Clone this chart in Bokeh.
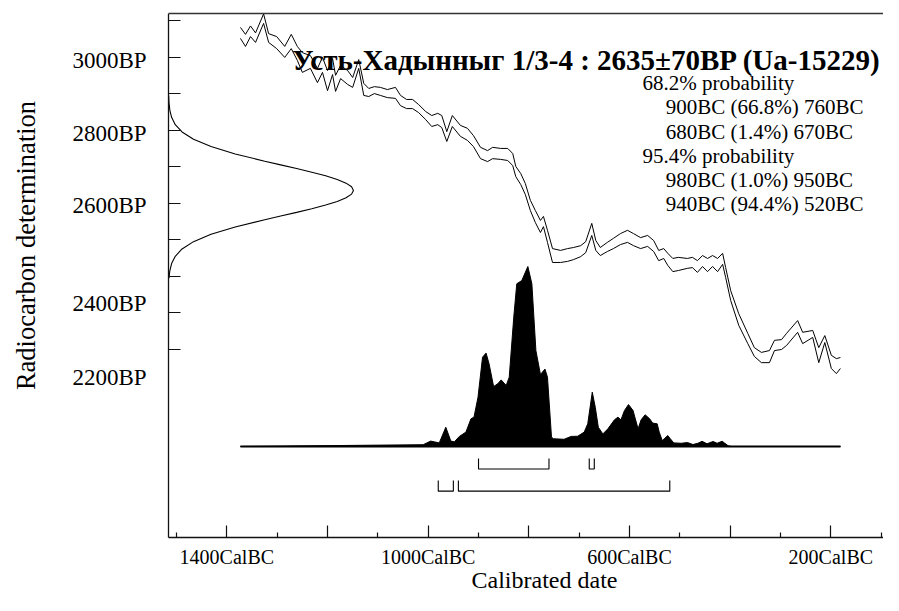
from bokeh.plotting import figure
from bokeh.models import Range1d, LinearAxis, FixedTicker
from bokeh.embed import file_html
from bokeh.resources import INLINE
from bokeh.core.properties import value

# ---------------- data ----------------
title_text = "Усть-Хадынныг 1/3-4 : 2635±70BP (Ua-15229)"
x_title = "Calibrated date"
y_title = "Radiocarbon determination"

# calibration curve (years BC, upper / lower envelope in BP)
cal_bc = [1373, 1363, 1353, 1343, 1327, 1317, 1301, 1285, 1272, 1260,
          1250, 1234, 1220, 1210, 1200, 1190, 1184, 1174, 1160, 1150,
          1138, 1128, 1118, 1107, 1095, 1081, 1065, 1055, 1043, 1031,
          1019, 1005, 993, 981, 973, 963, 952, 936, 922, 910,
          896, 882, 872, 856, 842, 832, 826, 816, 807, 797,
          787, 777, 771, 763, 753, 737, 723, 711, 697, 687,
          675, 667, 658, 644, 632, 618, 604, 592, 578, 564,
          552, 542, 532, 524, 514, 503, 485, 475, 465, 455,
          445, 435, 425, 415, 409, 399, 383, 365, 352, 338,
          322, 312, 298, 288, 266, 256, 236, 224, 212, 199,
          189, 181]
cal_upper = [3081, 3062, 3085, 3066, 3118, 3064, 3056, 3029, 3062, 3029,
             3012, 3004, 2969, 2999, 2963, 2996, 2950, 2977, 2963, 2944,
             2993, 2928, 2914, 2919, 2917, 2911, 2917, 2895, 2884, 2884,
             2870, 2851, 2840, 2846, 2840, 2796, 2840, 2813, 2805, 2785,
             2753, 2744, 2753, 2750, 2750, 2736, 2701, 2681, 2654, 2608,
             2580, 2553, 2564, 2526, 2476, 2471, 2476, 2479, 2484, 2495,
             2545, 2498, 2479, 2493, 2504, 2517, 2526, 2517, 2506, 2512,
             2498, 2471, 2476, 2463, 2449, 2452, 2449, 2452, 2443, 2457,
             2449, 2457, 2449, 2463, 2424, 2361, 2298, 2244, 2205, 2192,
             2197, 2225, 2227, 2244, 2279, 2247, 2252, 2205, 2238, 2184,
             2175, 2178]
cal_lower = [3051, 3029, 3056, 3040, 3092, 3040, 3023, 2999, 3023, 2991,
             2958, 2969, 2930, 2958, 2908, 2952, 2906, 2941, 2925, 2917,
             2969, 2895, 2892, 2900, 2895, 2889, 2887, 2867, 2859, 2859,
             2848, 2829, 2810, 2815, 2807, 2769, 2810, 2783, 2772, 2755,
             2722, 2714, 2722, 2720, 2717, 2703, 2673, 2651, 2624, 2580,
             2547, 2520, 2536, 2493, 2438, 2438, 2441, 2446, 2454, 2465,
             2512, 2471, 2457, 2468, 2476, 2487, 2493, 2484, 2476, 2482,
             2468, 2443, 2449, 2430, 2413, 2416, 2422, 2424, 2411, 2427,
             2413, 2427, 2413, 2433, 2397, 2334, 2266, 2216, 2181, 2164,
             2164, 2197, 2200, 2211, 2247, 2216, 2233, 2164, 2219, 2148,
             2134, 2148]

# calibrated probability distribution (years BC, relative probability)
dist_bc = [1373, 1010, 995, 978, 965, 955, 948, 938, 925, 915,
           909, 901, 892, 885, 879, 870, 862, 855, 845, 839,
           830, 824, 814, 802, 794, 786, 777, 768, 763, 755,
           751, 730, 716, 703, 690, 683, 674, 668, 662, 653,
           643, 630, 623, 617, 610, 602, 593, 583, 577, 569,
           560, 554, 545, 541, 535, 531, 524, 519, 512, 497,
           485, 474, 464, 456, 446, 434, 426, 416, 404, 398,
           181]
dist_p = [0, 0.01, 0.03, 0.02, 0.107, 0.03, 0.026, 0.056, 0.08, 0.154,
          0.163, 0.274, 0.496, 0.519, 0.459, 0.333, 0.348, 0.37, 0.339, 0.385,
          0.718, 0.904, 0.922, 1.0, 0.904, 0.533, 0.4, 0.43, 0.385, 0.052,
          0.043, 0.04, 0.056, 0.057, 0.08, 0.126, 0.302, 0.218, 0.107, 0.07,
          0.098, 0.148, 0.163, 0.148, 0.2, 0.233, 0.2, 0.098, 0.148, 0.176,
          0.154, 0.13, 0.126, 0.08, 0.033, 0.043, 0.061, 0.043, 0.02, 0.018,
          0.022, 0.011, 0.018, 0.029, 0.015, 0.028, 0.018, 0.029, 0.004, 0,
          0]

# radiocarbon determination (BP, relative height)
gauss_bp = [2395, 2415, 2435, 2455, 2475, 2495, 2515, 2535, 2555, 2565,
            2575, 2585, 2595, 2605, 2615, 2625, 2635, 2645, 2655, 2665,
            2675, 2685, 2695, 2705, 2715, 2735, 2755, 2775, 2795, 2815,
            2835, 2855, 2875, 2895]
gauss_h = [0.0028, 0.0072, 0.0169, 0.0367, 0.0734, 0.1353, 0.2301, 0.3606, 0.5205, 0.6065,
           0.6927, 0.7748, 0.8494, 0.9123, 0.96, 0.9898, 1.0, 0.9898, 0.96, 0.9123,
           0.8494, 0.7748, 0.6927, 0.6065, 0.5205, 0.3606, 0.2301, 0.1353, 0.0734, 0.0367,
           0.0169, 0.0072, 0.0028, 0.001]

# probability ranges
ranges_68 = [(900, 760), (680, 670)]
pct_68 = [66.8, 1.4]
ranges_95 = [(980, 950), (940, 520)]
pct_95 = [1.0, 94.4]

# axis ticks
x_major = [-1400, -1200, -1000, -800, -600, -400, -200]
x_minor = [-1500, -1300, -1100, -900, -700, -500, -300, -100]
x_labelled = [-1400, -1000, -600, -200]
y_ticks = [2200, 2300, 2400, 2500, 2600, 2700, 2800, 2900, 3000, 3100]
y_label_pos = [2991, 2792, 2594, 2325, 2124]
y_label_text = ["3000BP", "2800BP", "2600BP", "2400BP", "2200BP"]

# ---------------- figure ----------------
FONT = "Liberation Serif"
X_LEFT = -1515.9         # year where the radiocarbon axis sits
X_RIGHT = -95.4
Y_AXIS_BOTTOM = 1685.7   # BP value where the time axis sits
Y_TOP = 3119.1

p = figure(width=883, height=595, output_backend="svg", toolbar_location=None,
           x_range=Range1d(-1849.7, X_RIGHT), y_range=Range1d(1527.0, Y_TOP),
           min_border_left=0, min_border_right=0, min_border_top=13,
           min_border_bottom=0, x_axis_location=None, y_axis_location=None)
p.extra_y_ranges = {"prob": Range1d(-0.8278, 2.4056)}
p.extra_x_ranges = {"gx": Range1d(-0.908, 3.865)}
p.outline_line_color = None
p.background_fill_color = "white"
p.border_fill_color = "white"
for g in p.grid:
    g.visible = False

AX_COL = "#111111"

# time axis, fixed at the bottom of the plotting box
xaxis = LinearAxis(
    fixed_location=Y_AXIS_BOTTOM, bounds=(X_LEFT, X_RIGHT),
    ticker=FixedTicker(ticks=x_major, minor_ticks=x_minor),
    major_label_overrides={v: (f"{abs(v)}CalBC" if v in x_labelled else "") for v in x_major},
    major_tick_in=12, major_tick_out=0, minor_tick_in=5, minor_tick_out=0,
    major_label_standoff=9,
    major_label_text_font=FONT, major_label_text_font_size="20px",
    major_label_text_color="black",
    axis_line_color=AX_COL, axis_line_width=1.3,
    major_tick_line_color=AX_COL, minor_tick_line_color=AX_COL,
    major_tick_line_width=1.2, minor_tick_line_width=1.2)
p.add_layout(xaxis, "below")

# holder for the time axis title (no line, no ticks)
xtitle_axis = LinearAxis(
    fixed_location=Y_AXIS_BOTTOM, bounds=(-929.8, -607.9),
    ticker=FixedTicker(ticks=[]), axis_line_color=None,
    major_tick_in=0, major_tick_out=0, minor_tick_in=0, minor_tick_out=0,
    major_label_standoff=0, major_label_text_font_size="0px",
    axis_label=x_title, axis_label_text_font=FONT, axis_label_text_font_size="24px",
    axis_label_text_font_style="normal", axis_label_text_color="black",
    axis_label_standoff=29)
p.add_layout(xtitle_axis, "below")

# radiocarbon axis, fixed at the left edge of the plotting box
yaxis = LinearAxis(
    fixed_location=X_LEFT, bounds=(Y_AXIS_BOTTOM, Y_TOP),
    ticker=FixedTicker(ticks=y_label_pos, minor_ticks=y_ticks),
    major_label_overrides=dict(zip(y_label_pos, y_label_text)),
    major_tick_in=0, major_tick_out=0, minor_tick_in=12, minor_tick_out=0,
    major_label_standoff=22,
    major_label_text_font=FONT, major_label_text_font_size="23px",
    major_label_text_color="black",
    axis_line_color=AX_COL, axis_line_width=1.3,
    minor_tick_line_color=AX_COL, minor_tick_line_width=1.2)
p.add_layout(yaxis, "left")

# holder for the radiocarbon axis title
ytitle_axis = LinearAxis(
    fixed_location=X_LEFT, bounds=(2087.8, 2881.1),
    ticker=FixedTicker(ticks=[]), axis_line_color=None,
    major_tick_in=0, major_tick_out=0, minor_tick_in=0, minor_tick_out=0,
    major_label_standoff=0, major_label_text_font_size="0px",
    axis_label=y_title, axis_label_text_font=FONT, axis_label_text_font_size="26.5px",
    axis_label_text_font_style="normal", axis_label_text_color="black",
    axis_label_standoff=128)
p.add_layout(ytitle_axis, "left")

top = LinearAxis(bounds=(X_LEFT, X_RIGHT), ticker=FixedTicker(ticks=[]),
                 major_tick_in=0, major_tick_out=0,
                 minor_tick_in=0, minor_tick_out=0, major_label_standoff=0,
                 major_label_text_font_size="0px", axis_line_color="#333333",
                 axis_line_width=1.3)
p.add_layout(top, "above")

# radiocarbon date on the y axis
p.line(x=gauss_h, y=gauss_bp, x_range_name="gx", line_color="black", line_width=1.1)

# calibration curve envelope
cal_x = [-v for v in cal_bc]
p.line(x=cal_x, y=cal_upper, line_color="black", line_width=1.0)
p.line(x=cal_x, y=cal_lower, line_color="black", line_width=1.0)

# calibrated distribution
dist_x = [-v for v in dist_bc]
p.patch(x=dist_x, y=dist_p, y_range_name="prob", fill_color="black",
        line_color="black", line_width=1)
p.line(x=[dist_x[0], dist_x[-1]], y=[0, 0], y_range_name="prob",
       line_color="black", line_width=2)

# range brackets
def brackets(rngs, top_y, bot_y):
    xs, ys = [], []
    for a, b in rngs:
        xs.append([-a, -a, -b, -b])
        ys.append([top_y, bot_y, bot_y, top_y])
    return xs, ys

bx, by = brackets(ranges_68, -0.067, -0.125)
p.multi_line(xs=bx, ys=by, y_range_name="prob", line_color="black", line_width=1.1)
bx, by = brackets(ranges_95, -0.189, -0.248)
p.multi_line(xs=bx, ys=by, y_range_name="prob", line_color="black", line_width=1.1)

# title
p.text(x=[-100], y=[2993], text=[title_text], text_font=value(FONT),
       text_font_size="29px", text_font_style="bold", text_align="right",
       text_baseline="alphabetic", text_color="black")

# probability text
lines = ["68.2% probability"]
lines += [f"{a}BC ({pc}%) {b}BC" for (a, b), pc in zip(ranges_68, pct_68)]
lines += ["95.4% probability"]
lines += [f"{a}BC ({pc}%) {b}BC" for (a, b), pc in zip(ranges_95, pct_95)]
indent = [0, 1, 1, 0, 1, 1]
line_y = [2928, 2862, 2796, 2730, 2664, 2598]
line_x = [-528 if i else -574 for i in indent]
p.text(x=line_x, y=line_y, text=lines, text_font=value(FONT), text_font_size="21px",
       text_align="left", text_baseline="alphabetic", text_color="black")

open("out.html", "w").write(file_html(p, INLINE))
